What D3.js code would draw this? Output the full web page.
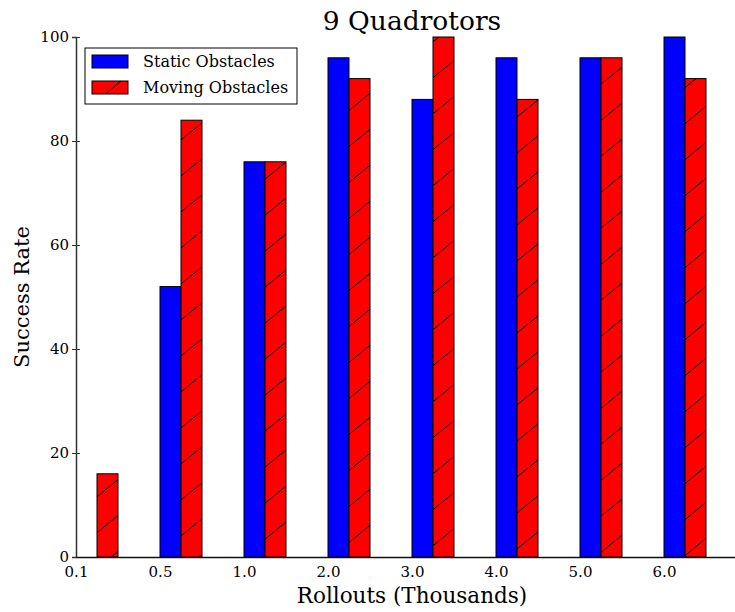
<!DOCTYPE html>
<html>
<head>
<meta charset="utf-8">
<script src="https://d3js.org/d3.v7.min.js"></script>
<style>
  html, body { margin: 0; padding: 0; background: #fff; }
  svg text { font-family: "DejaVu Serif", serif; fill: #000; }
</style>
</head>
<body>
<div id="chart"></div>
<script>
const categories = ["0.1", "0.5", "1.0", "2.0", "3.0", "4.0", "5.0", "6.0"];
const staticValues = [0, 52, 76, 96, 88, 96, 96, 100];
const movingValues = [16, 84, 76, 92, 100, 88, 96, 92];
const yTicks = [0, 20, 40, 60, 80, 100];
const seriesNames = ["Static Obstacles", "Moving Obstacles"];
const title = "9 Quadrotors";
const xLabel = "Rollouts (Thousands)";
const yLabel = "Success Rate";

const W = 735, H = 612;
const mLeft = 76, mTop = 37, mBottom = 557, mRight = 748;

const svg = d3.select("#chart").append("svg")
  .attr("width", W).attr("height", H);

const defs = svg.append("defs");
const pat = defs.append("pattern")
  .attr("id", "hatch")
  .attr("patternUnits", "userSpaceOnUse")
  .attr("width", 44).attr("height", 36);
pat.append("rect").attr("width", 44).attr("height", 36).attr("fill", "#ff0000");
pat.append("path")
  .attr("d", "M0,36 L44,0 M-44,36 L0,0 M44,36 L88,0")
  .attr("stroke", "#000").attr("stroke-width", 1).attr("fill", "none");

const x = d3.scaleLinear().domain([0, 8]).range([mLeft, mRight]);
const y = d3.scaleLinear().domain([0, 100]).range([mBottom, mTop]);
const barW = 0.25;

const g = svg.append("g");

g.selectAll("rect.static").data(staticValues).join("rect")
  .attr("class", "static")
  .attr("x", (d, i) => x(i))
  .attr("width", (d, i) => x(i + barW) - x(i))
  .attr("y", d => y(d))
  .attr("height", d => y(0) - y(d))
  .attr("fill", "#0000ff")
  .attr("stroke", "#000").attr("stroke-width", 1);

g.selectAll("rect.moving").data(movingValues).join("rect")
  .attr("class", "moving")
  .attr("x", (d, i) => x(i + barW))
  .attr("width", (d, i) => x(i + 2 * barW) - x(i + barW))
  .attr("y", d => y(d))
  .attr("height", d => y(0) - y(d))
  .attr("fill", "url(#hatch)")
  .attr("stroke", "#000").attr("stroke-width", 1);

const yAxis = d3.axisLeft(y).tickValues(yTicks).tickSize(4).tickPadding(3).tickFormat(d3.format("d"));
const ya = svg.append("g").attr("transform", `translate(${mLeft},0)`).call(yAxis);
ya.select(".domain").attr("stroke", "#333").attr("stroke-width", 1.5);
ya.selectAll(".tick line").attr("x1", 4).attr("stroke", "#333").attr("stroke-width", 1);
ya.selectAll(".tick text").style("font-size", "15px").style("font-family", "DejaVu Serif").attr("fill", "#333");

const xAxis = d3.axisBottom(x).tickValues(d3.range(categories.length))
  .tickFormat(i => categories[i]).tickSize(0).tickPadding(6);
const xa = svg.append("g").attr("transform", `translate(0,${mBottom})`).call(xAxis);
xa.select(".domain").attr("stroke", "#111").attr("stroke-width", 1.5);
xa.selectAll(".tick text").style("font-size", "15px").style("font-family", "DejaVu Serif").attr("dy", "0.9em");

svg.append("text").attr("x", (mLeft + mRight) / 2).attr("y", 30)
  .attr("text-anchor", "middle").style("font-size", "26.5px").text(title);
svg.append("text").attr("x", (mLeft + mRight) / 2).attr("y", 603)
  .attr("text-anchor", "middle").style("font-size", "21.5px").text(xLabel);
svg.append("text").attr("transform", `translate(29,${(mTop + mBottom) / 2}) rotate(-90)`)
  .attr("text-anchor", "middle").style("font-size", "21px").text(yLabel);

const lg = svg.append("g");
lg.append("rect").attr("x", 85).attr("y", 48).attr("width", 212).attr("height", 56)
  .attr("fill", "#fff").attr("stroke", "#000").attr("stroke-width", 1);
const fills = ["#0000ff", "url(#hatch)"];
seriesNames.forEach((name, i) => {
  lg.append("rect").attr("x", 92).attr("y", 55 + i * 26).attr("width", 36).attr("height", 13)
    .attr("fill", fills[i]).attr("stroke", "#000").attr("stroke-width", 1);
  lg.append("text").attr("x", 143).attr("y", 67 + i * 26).style("font-size", "16px").text(name);
});
</script>
</body>
</html>
